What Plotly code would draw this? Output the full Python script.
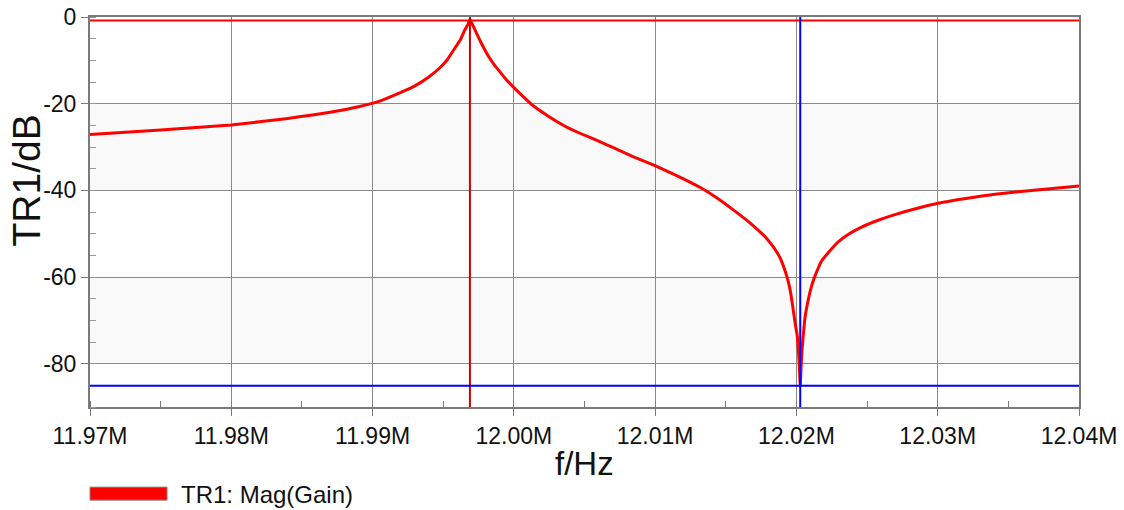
import plotly.graph_objects as go

# ---- data ----
freq_hz = [11.97000e6, 11.97500e6, 11.98000e6, 11.98400e6, 11.98700e6, 11.98900e6,
           11.99050e6, 11.99200e6, 11.99300e6, 11.99400e6, 11.99480e6, 11.99530e6,
           11.99570e6, 11.99620e6, 11.99650e6, 11.99675e6, 11.99689e6, 11.99700e6,
           11.99720e6, 11.99748e6, 11.99780e6, 11.99819e6, 11.99860e6, 11.99900e6,
           11.99950e6, 12.00000e6, 12.00067e6, 12.00126e6, 12.00244e6, 12.00362e6,
           12.00480e6, 12.00597e6, 12.00720e6, 12.00834e6, 12.00999e6, 12.01160e6,
           12.01317e6, 12.01430e6, 12.01553e6, 12.01671e6, 12.01789e6, 12.01840e6,
           12.01883e6, 12.01920e6, 12.01942e6, 12.01960e6, 12.01977e6, 12.01990e6,
           12.02006e6, 12.02016e6, 12.02022e6, 12.02027e6, 12.02032e6, 12.02038e6,
           12.02048e6, 12.02060e6, 12.02084e6, 12.02107e6, 12.02131e6, 12.02178e6,
           12.02225e6, 12.02296e6, 12.02366e6, 12.02461e6, 12.02579e6, 12.02697e6,
           12.02850e6, 12.03001e6, 12.03200e6, 12.03405e6, 12.03700e6, 12.04000e6]
gain_db = [-27.1, -26.1, -24.9, -23.4, -22.0, -20.7,
           -19.4, -17.4, -15.9, -13.8, -11.6, -9.8,
           -7.8, -5.3, -3.2, -1.7, -0.6, -1.3,
           -2.6, -4.6, -6.7, -9.0, -11.0, -12.6,
           -14.6, -16.3, -18.4, -20.2, -22.9, -25.2,
           -27.0, -28.6, -30.4, -32.1, -34.3, -36.7,
           -39.3, -41.6, -44.5, -47.5, -51.1, -53.2,
           -55.5, -58.6, -61.0, -63.8, -67.5, -70.5,
           -73.6, -78.0, -81.5, -85.1, -81.5, -77.5,
           -73.6, -69.5, -65.2, -62.1, -59.8, -56.3,
           -54.4, -51.9, -50.2, -48.5, -46.9, -45.6,
           -44.2, -43.0, -41.9, -40.9, -39.9, -39.0]

cursor1_freq = 11.99689e6
cursor1_db = -0.8
cursor2_freq = 12.02027e6
cursor2_db = -85.1

x_tickvals = [11.97e6, 11.98e6, 11.99e6, 12.00e6, 12.01e6, 12.02e6, 12.03e6, 12.04e6]
x_ticktext = ["11.97M", "11.98M", "11.99M", "12.00M", "12.01M", "12.02M", "12.03M", "12.04M"]
y_tickvals = [0, -20, -40, -60, -80]
y_ticktext = ["0", "-20", "-40", "-60", "-80"]
shaded_bands = [(-40, -20), (-80, -60)]

x_range = [11.97e6, 12.04e6]
y_range = [-90, 0]

FONT = "Liberation Sans, Arial, sans-serif"
GRID = "#8a8a8a"

fig = go.Figure()

fig.add_trace(go.Scatter(
    x=freq_hz, y=gain_db, mode="lines",
    line=dict(color="#ff0000", width=3, shape="spline", smoothing=0.4),
    name="TR1: Mag(Gain)", showlegend=False, hoverinfo="skip"))

shapes = []
for lo, hi in shaded_bands:
    shapes.append(dict(type="rect", xref="paper", yref="y", x0=0, x1=1, y0=lo, y1=hi,
                       fillcolor="#f9f9f9", line=dict(width=0), layer="below"))
# cursors
shapes.append(dict(type="line", xref="paper", yref="y", x0=0, x1=1,
                   y0=cursor1_db, y1=cursor1_db, line=dict(color="#ff0000", width=2)))
shapes.append(dict(type="line", xref="x", yref="paper", x0=cursor1_freq, x1=cursor1_freq,
                   y0=0, y1=1, line=dict(color="#cc0000", width=2)))
shapes.append(dict(type="line", xref="paper", yref="y", x0=0, x1=1,
                   y0=cursor2_db, y1=cursor2_db, line=dict(color="#0000ff", width=2)))
shapes.append(dict(type="line", xref="x", yref="paper", x0=cursor2_freq, x1=cursor2_freq,
                   y0=0, y1=1, line=dict(color="#0000ff", width=2)))
# legend swatch
shapes.append(dict(type="rect", xref="paper", yref="paper", x0=0, x1=0.0779,
                   y0=-0.2388, y1=-0.2054, fillcolor="#ff0000",
                   line=dict(color="#888888", width=1)))

annotations = [
    dict(text="TR1: Mag(Gain)", xref="paper", yref="paper", x=0.0900, y=-0.2234,
         xanchor="left", yanchor="middle", showarrow=False,
         font=dict(family=FONT, size=24, color="#111111")),
    dict(text="f/Hz", xref="paper", yref="paper", x=0.5, y=-0.1438,
         xanchor="center", yanchor="middle", showarrow=False,
         font=dict(family=FONT, size=33, color="#111111")),
    dict(text="TR1/dB", xref="paper", yref="paper", x=-0.0640, y=0.58,
         xanchor="center", yanchor="middle", showarrow=False, textangle=-90,
         font=dict(family=FONT, size=39, color="#111111")),
]

fig.update_layout(
    width=1124, height=510,
    margin=dict(l=90, r=45, t=17, b=103, autoexpand=False),
    paper_bgcolor="white", plot_bgcolor="white",
    shapes=shapes, annotations=annotations,
    showlegend=False,
    xaxis=dict(range=x_range, tickvals=x_tickvals, ticktext=x_ticktext, automargin=False,
               showgrid=True, gridcolor=GRID, gridwidth=1,
               showline=True, linecolor="#7a7a7a", linewidth=2, mirror=True,
               ticks="outside", ticklen=7, tickcolor="#7a7a7a", tickwidth=1,
               minor=dict(ticks="inside", dtick=5000, tick0=11.97e6, ticklen=6,
                          tickcolor="#7a7a7a", showgrid=False),
               tickfont=dict(family=FONT, size=23, color="#111111"),
               zeroline=False, fixedrange=True),
    yaxis=dict(range=y_range, tickvals=y_tickvals, ticktext=y_ticktext, automargin=False,
               showgrid=True, gridcolor=GRID, gridwidth=1,
               showline=True, linecolor="#7a7a7a", linewidth=2, mirror=True,
               ticks="outside", ticklen=7, tickcolor="#7a7a7a", tickwidth=1,
               minor=dict(ticks="inside", dtick=5, tick0=0, ticklen=6,
                          tickcolor="#9a9a9a", showgrid=False),
               tickfont=dict(family=FONT, size=23, color="#111111"),
               zeroline=False, fixedrange=True),
)

fig.write_html("out.html")
